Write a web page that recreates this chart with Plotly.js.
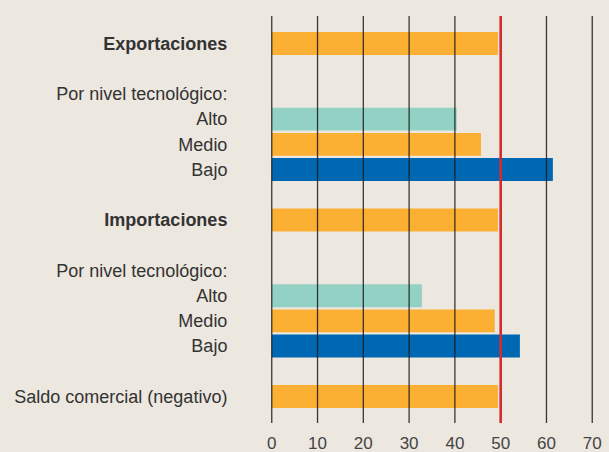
<!DOCTYPE html>
<html>
<head>
<meta charset="utf-8">
<script src="https://cdn.plot.ly/plotly-3.0.1.min.js"></script>
<style>
  html, body { margin: 0; padding: 0; background: #ECE7DF; }
  #chart { width: 609px; height: 452px; }
</style>
</head>
<body>
<div id="chart"></div>
<script>
// Row labels (top to bottom); empty strings are spacer rows
const rowLabels = [
  '<b>Exportaciones</b>', '', 'Por nivel tecnológico:', 'Alto', 'Medio', 'Bajo', '',
  '<b>Importaciones</b>', '', 'Por nivel tecnológico:', 'Alto', 'Medio', 'Bajo', '',
  'Saldo comercial (negativo)'
];
// Bar values (null = no bar)
const rowValues = [
  49.4, null, null, 40.4, 45.7, 61.4, null,
  49.4, null, null, 32.8, 48.7, 54.2, null,
  49.4
];
// Bar kind used for colour
const rowKinds = [
  'total', '', '', 'alto', 'medio', 'bajo', '',
  'total', '', '', 'alto', 'medio', 'bajo', '',
  'total'
];
const xTickValues = [0, 10, 20, 30, 40, 50, 60, 70];
const referenceLine = 50;

const kindColors = { total: '#FBAF33', medio: '#FBAF33', alto: '#93D1C5', bajo: '#0068B3', '': 'rgba(0,0,0,0)' };
const rowIndex = rowLabels.map((_, i) => i);

const trace = {
  type: 'bar',
  orientation: 'h',
  x: rowValues,
  y: rowIndex,
  width: 0.91,
  marker: { color: rowKinds.map(k => kindColors[k]) },
  hoverinfo: 'x'
};

const gridShapes = xTickValues.map(v => ({
  type: 'line', xref: 'x', yref: 'paper',
  x0: v, x1: v, y0: 0, y1: 1,
  layer: 'above',
  line: { color: 'rgba(25,25,25,0.85)', width: 1.3 }
}));
gridShapes.push({
  type: 'line', xref: 'x', yref: 'paper',
  x0: referenceLine, x1: referenceLine, y0: 0, y1: 1,
  layer: 'above',
  line: { color: '#D62A30', width: 2.6 }
});

const layout = {
  width: 609, height: 452,
  paper_bgcolor: '#ECE7DF',
  plot_bgcolor: '#ECE7DF',
  margin: { l: 269.3, r: 14, t: 16, b: 29 },
  showlegend: false,
  font: { family: 'Liberation Sans, Arial, sans-serif', color: '#333333', size: 18 },
  xaxis: {
    range: [-0.6, 70.6],
    tickvals: xTickValues,
    ticktext: xTickValues.map(String),
    showgrid: false, zeroline: false, showline: false,
    ticks: 'outside', ticklen: 5, tickcolor: 'rgba(0,0,0,0)',
    tickfont: { size: 17, color: '#444444' },
    fixedrange: true
  },
  yaxis: {
    range: [15.05, -1.09],
    tickvals: rowIndex,
    ticktext: rowLabels,
    showgrid: false, zeroline: false, showline: false,
    ticks: 'outside', ticklen: 37, tickcolor: 'rgba(0,0,0,0)',
    tickfont: { size: 18, color: '#333333' },
    fixedrange: true
  },
  shapes: gridShapes
};

Plotly.newPlot('chart', [trace], layout, { displayModeBar: false, staticPlot: true });
</script>
</body>
</html>
